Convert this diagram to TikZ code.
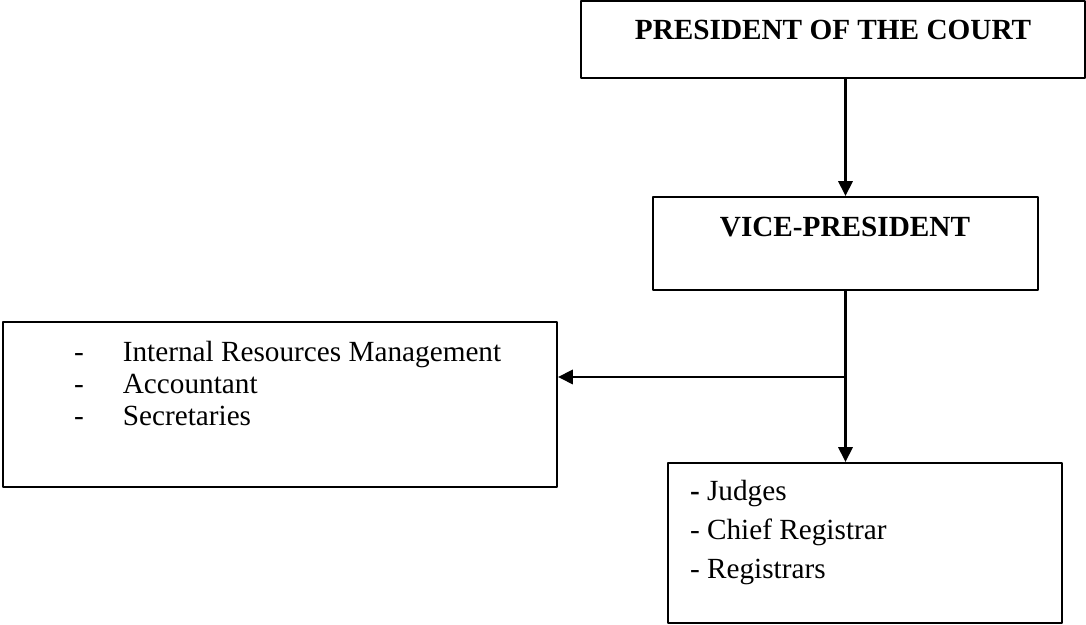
\documentclass[tikz,border=0pt]{standalone}
\usepackage{fontspec}
\setmainfont{Liberation Serif}
\usetikzlibrary{arrows.meta,positioning}
\tikzset{
	box/.style={draw,rectangle,inner sep=0pt},
	boxtext/.style={inner sep=0pt,align=left}
}
\begin{document}
\begin{tikzpicture}[>={Triangle[length=0.37cm,width=0.36cm]},line join=round,line width=1.5pt,font=\fontsize{20.8}{25}\selectfont]
	\useasboundingbox (0,0) rectangle (27.15,15.625);
	\node[box,minimum width=12.6cm,minimum height=1.925cm] (pres) at (20.825,14.6375) {};
	\node[box,minimum width=9.625cm,minimum height=2.325cm] (vp) at (21.1375,9.5375) {};
	\node[box,minimum width=13.85cm,minimum height=4.125cm] (admin) at (7,5.5125) {};
	\node[box,minimum width=9.85cm,minimum height=4cm] (staff) at (21.625,2.05) {};
	\node[anchor=base] (prestext) at (20.825,14.64) {\bfseries PRESIDENT OF THE COURT};
	\node[anchor=base] (vptext) at (21.125,9.71) {\bfseries VICE-PRESIDENT};
	% base of a multi-line node is its last line
	\node[boxtext,anchor=base west,font=\fontsize{20.8}{23.1}\selectfont] (admintext) at (1.825,4.975)
	{\makebox[1.22cm][l]{-}Internal Resources Management\\
	 \makebox[1.22cm][l]{-}Accountant\\
	 \makebox[1.22cm][l]{-}Secretaries};
	\node[boxtext,anchor=base west,font=\fontsize{20.8}{27.7}\selectfont] (stafftext) at (17.225,1.17)
	{\textbf{-} Judges\\
	 - Chief Registrar\\
	 - Registrars};
	\coordinate (split) at (vp.south |- 0,6.2);
	\draw[->] (pres.south -| vp.north)--(vp.north);
	\draw[->] (vp.south)--(vp.south |- staff.north);
	\draw[->] (split)--(split -| admin.east);
\end{tikzpicture}
\end{document}
